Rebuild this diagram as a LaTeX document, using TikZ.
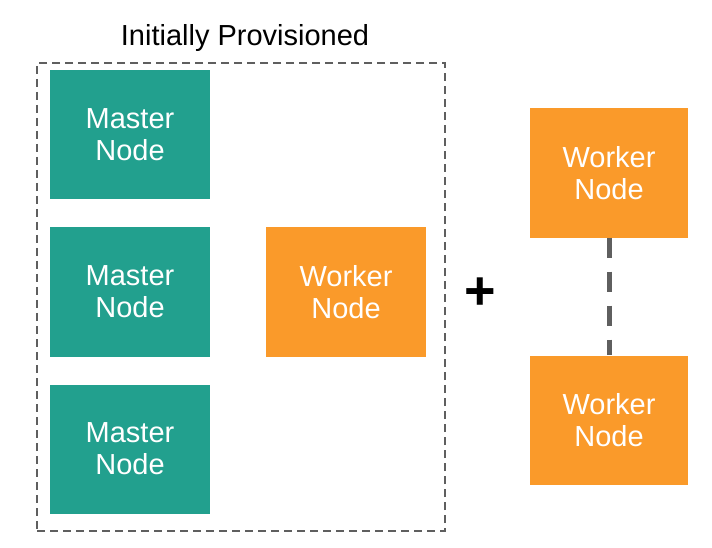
\documentclass[tikz,border=0pt]{standalone}
\usepackage{fontspec}
\setmainfont{Liberation Sans}
\definecolor{teal1}{HTML}{22A08E}
\definecolor{orange1}{HTML}{FA9A2A}
\definecolor{dgrey}{HTML}{5F5F5F}
\begin{document}
\begin{tikzpicture}[x=1pt,y=-1pt,
  box/.style={minimum width=160pt,minimum height=129pt,inner sep=0pt,text=white,align=center,
    font=\fontsize{29}{32}\selectfont},
  master/.style={box,fill=teal1},
  worker/.style={box,fill=orange1}]
\useasboundingbox[fill=white] (0,0) rectangle (712,548);
\node[font=\fontsize{29}{32}\selectfont] (title) at (245,38) {Initially Provisioned};
\node[draw=dgrey,line width=1.6pt,dash pattern=on 8pt off 5pt,minimum width=408pt,minimum height=468pt,inner sep=0pt] (group) at (241,297) {};
\node[master] (m1) at (130,135) {Master\\Node};
\node[master] (m2) at (130,292) {Master\\Node};
\node[master] (m3) at (130,449) {Master\\Node};
\node[worker] (w1) at (346,292) {Worker\\Node};
\node[font=\fontsize{54}{54}\selectfont\bfseries,inner sep=0pt,anchor=base] (plus) at (480,309) {+};
\node[worker,minimum width=158pt] (w2) at (609,173) {Worker\\Node};
\node[worker,minimum width=158pt] (w3) at (609,420) {Worker\\Node};
\draw[dgrey,line width=5pt,dash pattern=on 20pt off 14pt] (w2.south) -- (w3.north);
\end{tikzpicture}
\end{document}
